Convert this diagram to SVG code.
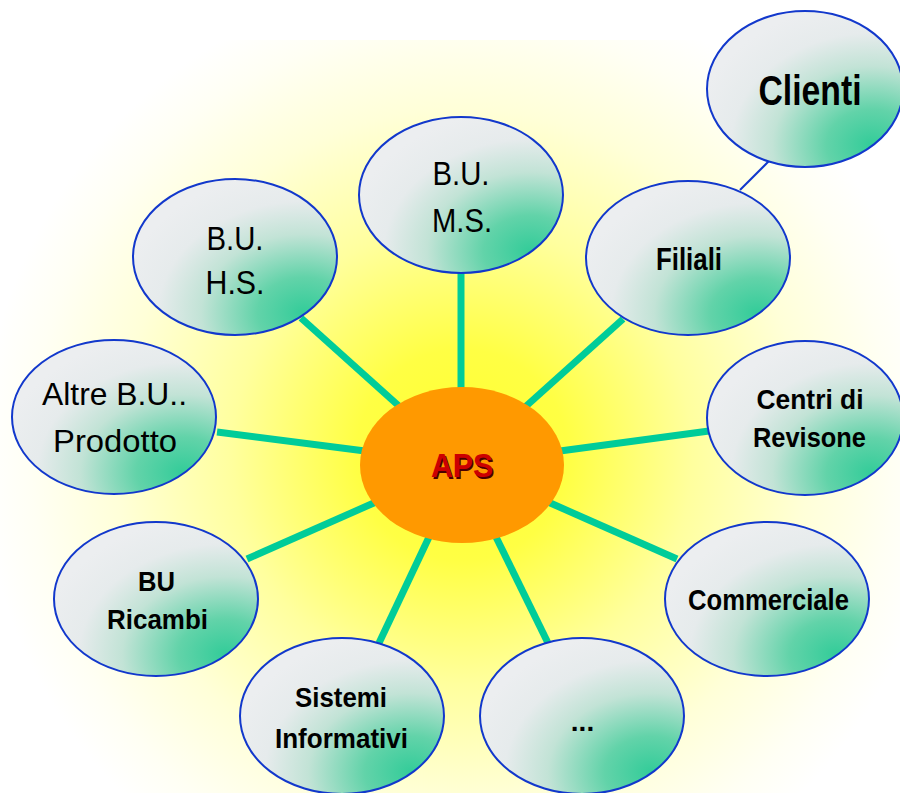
<svg xmlns="http://www.w3.org/2000/svg" width="900" height="793" viewBox="0 0 900 793">
<defs>
<radialGradient id="glow" gradientUnits="userSpaceOnUse" cx="462" cy="455" r="480">
<stop offset="0" stop-color="#FFFF2E"/>
<stop offset="0.22" stop-color="#FFFF44"/>
<stop offset="0.48" stop-color="#FFFF9E"/>
<stop offset="0.72" stop-color="#FFFFD8"/>
<stop offset="0.9" stop-color="#FFFFF4"/>
<stop offset="1" stop-color="#FFFFFF"/>
</radialGradient>
<radialGradient id="nodefill" cx="0.84" cy="0.86" r="0.92">
<stop offset="0" stop-color="#33CC99"/>
<stop offset="0.25" stop-color="#62D3A9"/>
<stop offset="0.55" stop-color="#C2E3D6"/>
<stop offset="0.78" stop-color="#E6EBEC"/>
<stop offset="1" stop-color="#ECEEF0"/>
</radialGradient>
<style>
.node ellipse{fill:url(#nodefill);stroke:#1238CC;stroke-width:2}
.conn line{stroke:#00CC99;stroke-width:7}
.conn line.thin{stroke:#1238CC;stroke-width:2}
text{font-family:"Liberation Sans",Arial,sans-serif;fill:#000;text-anchor:middle}
.b{font-weight:bold}
</style>
</defs>
<rect x="0" y="0" width="900" height="793" fill="#FFFFFF"/>
<rect x="0" y="40" width="900" height="753" fill="url(#glow)"/>
<g id="connectors" class="conn">
<line x1="461" y1="273" x2="461" y2="390"/>
<line x1="301" y1="318" x2="400" y2="407"/>
<line x1="623" y1="319" x2="524" y2="408"/>
<line x1="217" y1="432" x2="365" y2="451"/>
<line x1="709" y1="431" x2="560" y2="451"/>
<line x1="247" y1="559" x2="376" y2="502"/>
<line x1="677" y1="559" x2="548" y2="502"/>
<line x1="379" y1="643" x2="430" y2="535"/>
<line x1="548" y1="643" x2="495" y2="535"/>
<line class="thin" x1="740" y1="190" x2="769" y2="161"/>
</g>
<g id="aps">
<ellipse cx="462" cy="465" rx="102" ry="78" fill="#FF9900"/>
<text x="463.5" y="478.5" class="b" font-size="33" style="fill:#4A0000" textLength="62" lengthAdjust="spacingAndGlyphs">APS</text>
<text x="462" y="477" class="b" font-size="33" style="fill:#CC0000" textLength="62" lengthAdjust="spacingAndGlyphs">APS</text>
</g>
<g id="clienti" class="node">
<ellipse cx="805" cy="89" rx="98" ry="78"/>
<text x="810" y="105" class="b" font-size="43" textLength="103" lengthAdjust="spacingAndGlyphs">Clienti</text>
</g>
<g id="bu-ms" class="node">
<ellipse cx="461" cy="195" rx="102" ry="78"/>
<text x="461" y="185" font-size="34" textLength="57" lengthAdjust="spacingAndGlyphs">B.U.</text>
<text x="462" y="232" font-size="34" textLength="60" lengthAdjust="spacingAndGlyphs">M.S.</text>
</g>
<g id="bu-hs" class="node">
<ellipse cx="235" cy="257" rx="102" ry="78"/>
<text x="235" y="250" font-size="34" textLength="57" lengthAdjust="spacingAndGlyphs">B.U.</text>
<text x="235" y="294" font-size="34" textLength="59" lengthAdjust="spacingAndGlyphs">H.S.</text>
</g>
<g id="filiali" class="node">
<ellipse cx="688" cy="258" rx="102" ry="77"/>
<text x="689" y="270" class="b" font-size="31" textLength="66" lengthAdjust="spacingAndGlyphs">Filiali</text>
</g>
<g id="altre-bu" class="node">
<ellipse cx="114" cy="417" rx="102" ry="77"/>
<text x="114.5" y="405" font-size="32" textLength="145" lengthAdjust="spacingAndGlyphs">Altre B.U..</text>
<text x="115" y="452" font-size="32" textLength="124" lengthAdjust="spacingAndGlyphs">Prodotto</text>
</g>
<g id="centri" class="node">
<ellipse cx="805" cy="418" rx="98" ry="77"/>
<text x="810" y="409" class="b" font-size="28" textLength="107" lengthAdjust="spacingAndGlyphs">Centri di</text>
<text x="809.5" y="447" class="b" font-size="28" textLength="113" lengthAdjust="spacingAndGlyphs">Revisone</text>
</g>
<g id="bu-ricambi" class="node">
<ellipse cx="156" cy="599" rx="102" ry="77"/>
<text x="156.5" y="591" class="b" font-size="28" textLength="37" lengthAdjust="spacingAndGlyphs">BU</text>
<text x="157.5" y="629" class="b" font-size="28" textLength="101" lengthAdjust="spacingAndGlyphs">Ricambi</text>
</g>
<g id="commerciale" class="node">
<ellipse cx="767" cy="599" rx="102" ry="77"/>
<text x="768.5" y="610" class="b" font-size="30" textLength="161" lengthAdjust="spacingAndGlyphs">Commerciale</text>
</g>
<g id="sistemi" class="node">
<ellipse cx="342" cy="716" rx="102" ry="78"/>
<text x="341" y="707" class="b" font-size="28" textLength="92" lengthAdjust="spacingAndGlyphs">Sistemi</text>
<text x="341.5" y="748" class="b" font-size="28" textLength="133" lengthAdjust="spacingAndGlyphs">Informativi</text>
</g>
<g id="altro" class="node">
<ellipse cx="582" cy="716" rx="102" ry="78"/>
<text x="582.5" y="731" class="b" font-size="28">...</text>
</g>
</svg>
